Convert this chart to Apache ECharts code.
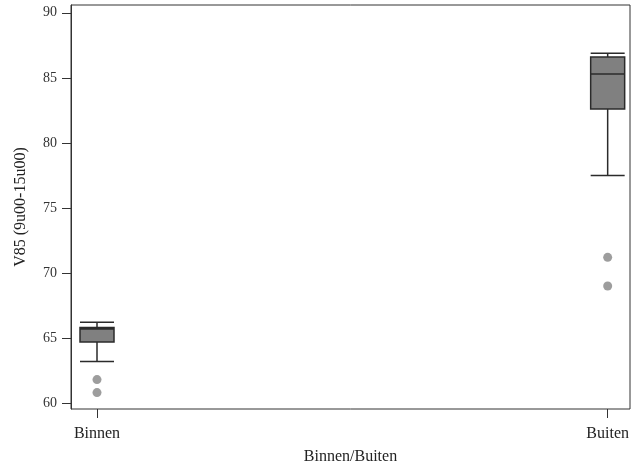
<!DOCTYPE html>
<html>
<head>
<meta charset="UTF-8">
<title>V85 Binnen/Buiten</title>
<script src="https://cdn.jsdelivr.net/npm/echarts@6/dist/echarts.min.js"></script>
</head>
<body style="margin:0;">
<div id="chart" style="width:632px;height:470px;"></div>
<script>
// categorieen en boxplot-waarden [min, Q1, mediaan, Q3, max]
var categories = ['Binnen', 'Buiten'];
var boxBinnen = [63.2, 64.7, 65.7, 65.8, 66.2];
var boxBuiten = [77.5, 82.6, 85.3, 86.6, 86.9];
// uitschieters [categorie-index, waarde]
var outliers = [[0, 61.8], [0, 60.8], [1, 71.2], [1, 69.0]];
var yTicks = [60, 65, 70, 75, 80, 85, 90];

var font = 'Liberation Serif';
var yMin = 59.54, yMax = 90.6;

var chart = echarts.init(document.getElementById('chart'));
chart.setOption({
    animation: false,
    grid: [
        {left: 71, right: 2, top: 5, bottom: 61, show: true, borderColor: '#333', borderWidth: 1},
        {left: 97, right: 22, top: 5, bottom: 61}
    ],
    xAxis: [
        {
            type: 'value', gridIndex: 0, min: 0, max: 1,
            name: 'Binnen/Buiten', nameLocation: 'middle', nameGap: 40,
            nameTextStyle: {fontFamily: font, fontSize: 16, color: '#222'},
            axisLine: {show: false}, axisTick: {show: false},
            axisLabel: {show: false}, splitLine: {show: false}
        },
        {
            type: 'category', gridIndex: 1, data: categories, boundaryGap: false,
            axisLine: {show: false},
            axisTick: {show: true, length: 9, lineStyle: {color: '#333'}},
            axisLabel: {fontFamily: font, fontSize: 16, color: '#222', margin: 17},
            splitLine: {show: false}
        }
    ],
    yAxis: [
        {
            type: 'value', gridIndex: 0, min: yMin, max: yMax,
            name: 'V85 (9u00-15u00)', nameLocation: 'middle', nameGap: 42,
            nameTextStyle: {fontFamily: font, fontSize: 16, color: '#222'},
            axisLine: {show: true, lineStyle: {color: '#333'}},
            axisTick: {show: true, length: 9, customValues: yTicks, lineStyle: {color: '#333'}},
            axisLabel: {fontFamily: font, fontSize: 14, color: '#333', margin: 14, customValues: yTicks},
            splitLine: {show: false}
        },
        {
            type: 'value', gridIndex: 1, min: yMin, max: yMax, show: false
        }
    ],
    series: [
        {
            type: 'boxplot', xAxisIndex: 1, yAxisIndex: 1,
            boxWidth: [34, 34],
            data: [boxBinnen, boxBuiten],
            itemStyle: {color: '#808080', borderColor: '#2b2b2b', borderWidth: 1.5}
        },
        {
            type: 'scatter', xAxisIndex: 1, yAxisIndex: 1,
            data: outliers, symbolSize: 9,
            itemStyle: {color: '#858585'}
        }
    ]
});
</script>
</body>
</html>
